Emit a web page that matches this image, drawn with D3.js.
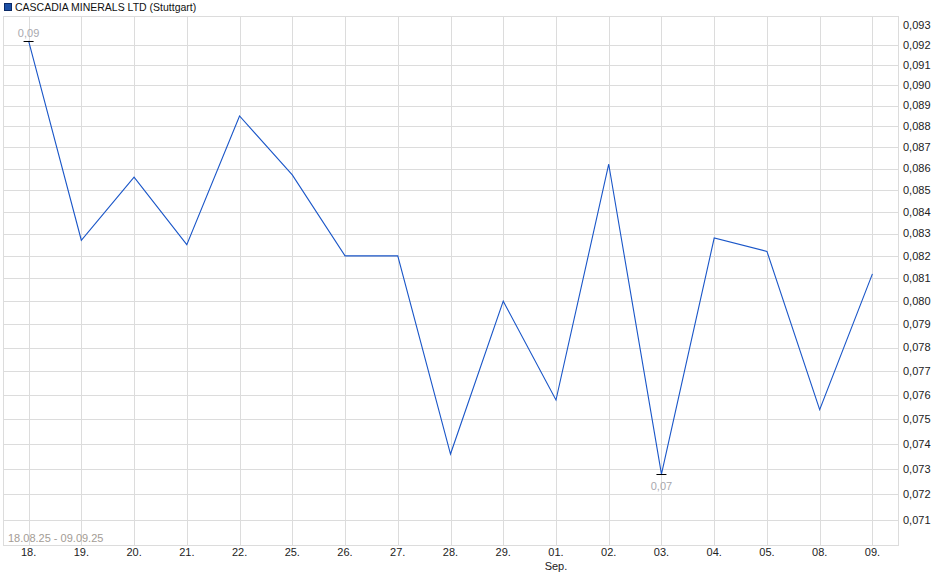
<!DOCTYPE html>
<html><head><meta charset="utf-8">
<script src="https://cdn.jsdelivr.net/npm/d3@7"></script>
<style>body{margin:0;background:#fff}svg{display:block;font-family:"Liberation Sans",Arial,sans-serif}</style>
</head><body><svg id="c" width="940" height="579"></svg>
<script>
const title = "CASCADIA MINERALS LTD (Stuttgart)";
const dates = ["18.","19.","20.","21.","22.","25.","26.","27.","28.","29.","01.","02.","03.","04.","05.","08.","09."];
const prices = [0.0922,0.0827,0.0856,0.0825,0.0885,0.0857,0.0820,0.0820,0.0736,0.0800,0.0758,0.0862,0.0728,0.0828,0.0822,0.0754,0.0812];
const yTicks = [0.093,0.092,0.091,0.090,0.089,0.088,0.087,0.086,0.085,0.084,0.083,0.082,0.081,0.080,0.079,0.078,0.077,0.076,0.075,0.074,0.073,0.072,0.071];
const monthLabels = [{at:"01.", text:"Sep."}];
const rangeText = "18.08.25 - 09.09.25";

const svg = d3.select("#c");
const L=3,R=898,T=16,B=545;
const x = d3.scalePoint().domain(dates).range([L,R]).padding(0.485);
const y = d3.scaleLog().domain([0.071,0.093]).range([520,25]);
const fmt = v => d3.format(".3f")(v).replace(".",",");
const grid = "#dcdcdc";

// horizontal grid
svg.append("g").selectAll("line").data(yTicks.filter(v=>y(v)-T>12)).join("line")
  .attr("x1",L).attr("x2",R).attr("y1",d=>Math.round(y(d))+0.5).attr("y2",d=>Math.round(y(d))+0.5)
  .attr("stroke",grid);
// vertical grid
svg.append("g").selectAll("line").data(dates).join("line")
  .attr("x1",d=>Math.round(x(d))+0.5).attr("x2",d=>Math.round(x(d))+0.5).attr("y1",T).attr("y2",B)
  .attr("stroke",grid);
// border
svg.append("rect").attr("x",L+0.5).attr("y",T+0.5).attr("width",R-L).attr("height",B-T)
  .attr("fill","none").attr("stroke",grid);

// y labels
svg.append("g").selectAll("text").data(yTicks).join("text")
  .attr("x",903).attr("y",d=>y(d)).attr("dy","0.35em").attr("font-size",11).attr("fill","#222")
  .text(fmt);
// x labels
svg.append("g").selectAll("text").data(dates).join("text")
  .attr("x",d=>x(d)).attr("y",556).attr("text-anchor","middle").attr("font-size",11).attr("fill","#222")
  .text(d=>d);
svg.append("g").selectAll("text").data(monthLabels).join("text")
  .attr("x",d=>x(d.at)).attr("y",570).attr("text-anchor","middle").attr("font-size",11).attr("fill","#222")
  .text(d=>d.text);

// range text
svg.append("text").attr("x",8).attr("y",542).attr("font-size",11).attr("fill","#a39c95").text(rangeText);

// line
const pts = dates.map((d,i)=>[x(d),y(prices[i])]);
svg.append("path").attr("d",d3.line()(pts)).attr("fill","none").attr("stroke","#1a56c8").attr("stroke-width",1.1);

// high / low markers
const iMax = d3.maxIndex(prices), iMin = d3.minIndex(prices);
[[iMax,-1],[iMin,1]].forEach(([i,dir])=>{
  const px=x(dates[i]), py=Math.round(y(prices[i]))+0.5;
  svg.append("line").attr("x1",px-5).attr("x2",px+5).attr("y1",py).attr("y2",py).attr("stroke","#000");
  svg.append("text").attr("x",px).attr("y",dir<0?py-5:py+15).attr("text-anchor","middle")
    .attr("font-size",11).attr("fill","#a8a8ae").text(d3.format(".2f")(prices[i]).replace(".",","));
});

// legend
svg.append("rect").attr("x",4.5).attr("y",3.5).attr("width",7).attr("height",7).attr("fill","#1c4fa5").attr("stroke","#0b2a66");
svg.append("text").attr("x",15).attr("y",11).attr("font-size",10.5).attr("fill","#111").text(title);
</script></body></html>
